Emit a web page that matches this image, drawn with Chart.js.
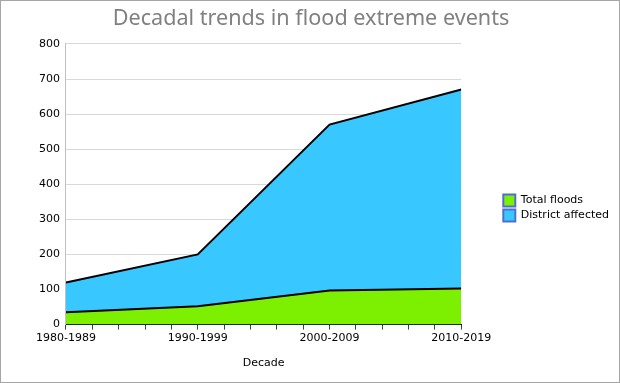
<!DOCTYPE html>
<html lang="en">
<head>
<meta charset="UTF-8">
<title>Decadal trends in flood extreme events</title>
<script src="https://cdn.jsdelivr.net/npm/chart.js"></script>
<style>
    body {
        margin: 0;
        background: #fff;
    }
    .frame {
        width: 620px;
        height: 383px;
        box-sizing: border-box;
        border: 1px solid #a6a6a6;
        position: relative;
    }
</style>
</head>
<body>
<div class="frame">
    <canvas id="myChart"></canvas>
</div>
<script>
    const decades = ['1980-1989', '1990-1999', '2000-2009', '2010-2019'];
    const totalFloods = [35, 52, 97, 103];
    const districtAffected = [120, 200, 570, 670];
    const yTicks = [0, 100, 200, 300, 400, 500, 600, 700, 800];

    // gap between plot and legend, how far the legend sits below centre, title centre x
    const legendGap = 39;
    const legendDrop = 20;
    const titleCenter = 310;

    function toPoints(values) {
        return values.map((v, i) => ({ x: i, y: v }));
    }

    const boxShift = {
        id: 'boxShift',
        beforeLayout(chart) {
            const lg = chart.legend;
            if (lg && !lg._patched) {
                const fit = lg.fit.bind(lg);
                lg.fit = function () {
                    fit();
                    this.width += legendGap;
                };
                lg._patched = true;
            }
        },
        afterLayout(chart) {
            const lg = chart.legend;
            if (lg) {
                lg.left += legendGap;
                lg.top += legendDrop;
                lg.bottom += legendDrop;
            }
            const tb = chart.titleBlock;
            if (tb) {
                const dx = titleCenter - (tb.left + tb.right) / 2;
                tb.left += dx;
                tb.right += dx;
            }
        }
    };

    const ctx = document.getElementById('myChart').getContext('2d');
    new Chart(ctx, {
        type: 'line',
        data: {
            datasets: [
                {
                    label: 'Total floods',
                    data: toPoints(totalFloods),
                    backgroundColor: '#7cf000',
                    borderColor: '#000',
                    borderWidth: 2,
                    fill: 'origin',
                    pointRadius: 0,
                    tension: 0
                },
                {
                    label: 'District affected',
                    data: toPoints(districtAffected),
                    backgroundColor: '#38c8ff',
                    borderColor: '#000',
                    borderWidth: 2,
                    fill: 'origin',
                    pointRadius: 0,
                    tension: 0
                }
            ]
        },
        plugins: [boxShift],
        options: {
            responsive: true,
            maintainAspectRatio: false,
            animation: false,
            layout: {
                padding: { left: 32, right: 0, top: 5, bottom: 12 }
            },
            plugins: {
                title: {
                    display: true,
                    text: 'Decadal trends in flood extreme events',
                    color: '#808080',
                    font: { family: 'Noto Sans', size: 21.6, weight: 'normal' },
                    padding: { top: 0, bottom: 12 }
                },
                legend: {
                    position: 'right',
                    align: 'center',
                    labels: {
                        color: '#000',
                        boxWidth: 12,
                        boxHeight: 12,
                        padding: 3,
                        font: { family: 'DejaVu Sans', size: 11 },
                        generateLabels(chart) {
                            return chart.data.datasets.map((ds, i) => ({
                                text: ds.label,
                                fillStyle: ds.backgroundColor,
                                strokeStyle: '#4f6fd0',
                                lineWidth: 2,
                                fontColor: '#000',
                                datasetIndex: i
                            }));
                        }
                    }
                },
                tooltip: { enabled: false }
            },
            scales: {
                x: {
                    type: 'linear',
                    min: 0,
                    max: decades.length - 1,
                    afterBuildTicks(axis) {
                        // 4 minor ticks between decades
                        const t = [];
                        for (let i = 0; i <= (decades.length - 1) * 5; i++) t.push({ value: i / 5 });
                        axis.ticks = t;
                    },
                    ticks: {
                        autoSkip: false,
                        maxRotation: 0,
                        color: '#000',
                        padding: 2,
                        font: { family: 'DejaVu Sans', size: 11 },
                        callback(v) {
                            const r = Math.round(v);
                            return Math.abs(v - r) < 1e-6 ? decades[r] : '';
                        }
                    },
                    grid: {
                        drawOnChartArea: false,
                        color: '#404040',
                        tickLength: 5
                    },
                    border: { color: '#000', width: 1 },
                    title: {
                        display: true,
                        text: 'Decade',
                        color: '#000',
                        font: { family: 'DejaVu Sans', size: 11 },
                        padding: { top: 10, bottom: 0 }
                    }
                },
                y: {
                    min: 0,
                    max: 800,
                    afterBuildTicks(axis) {
                        axis.ticks = yTicks.map(v => ({ value: v }));
                    },
                    ticks: {
                        color: '#000',
                        padding: 6,
                        font: { family: 'DejaVu Sans', size: 11 }
                    },
                    grid: {
                        color: '#d9d9d9',
                        drawTicks: false
                    },
                    border: { color: '#c0c0c0' }
                }
            }
        }
    });
</script>
</body>
</html>
